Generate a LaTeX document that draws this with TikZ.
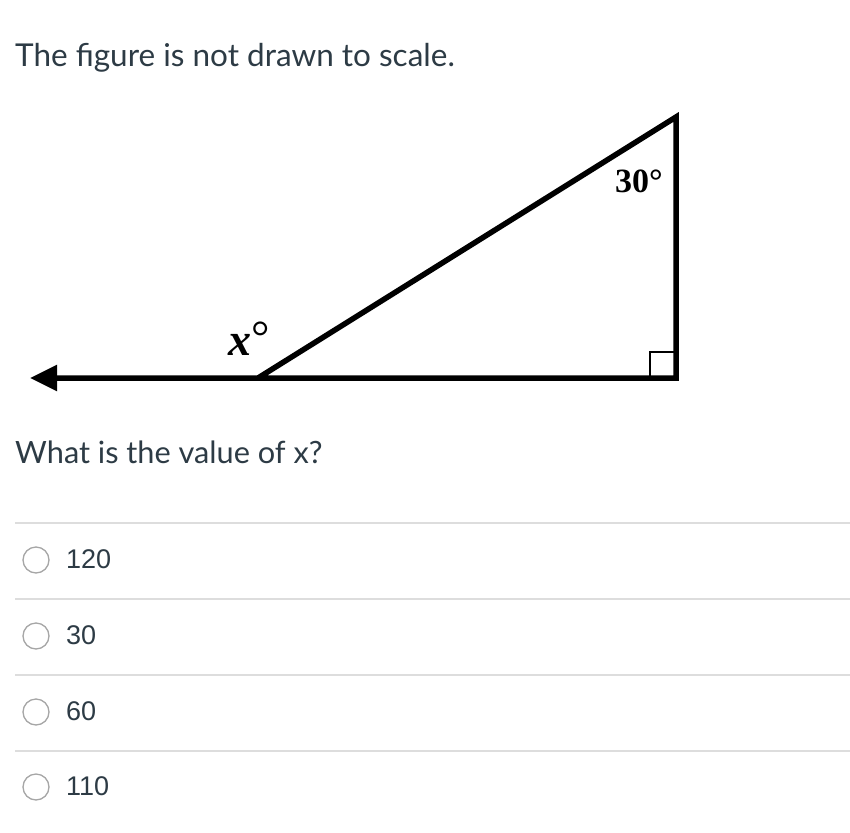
\documentclass[tikz,border=0pt]{standalone}
\usepackage{fontspec}
\setmainfont{Lato}
\newfontfamily\optfont{Liberation Sans}
\newfontfamily\timesfont{Liberation Serif}
\usetikzlibrary{arrows.meta}
\definecolor{ink}{HTML}{2D3B45}
\definecolor{sep}{HTML}{DDDDDD}
\tikzset{
  qtext/.style={anchor=base west, inner sep=0pt, text=ink, font=\fontsize{31.5}{36}\selectfont},
  opttext/.style={anchor=base west, inner sep=0pt, text=ink, font=\optfont\fontsize{27}{32}\selectfont},
  radio/.style={circle, draw=black!35, fill=white, line width=1.3pt, minimum size=26pt, inner sep=0pt},
  sepline/.style={draw=sep, line width=2pt},
  fig/.style={line width=5.5pt, line join=miter, miter limit=10},
  anglelbl/.style={inner sep=0pt, font=\timesfont\bfseries}
}
\begin{document}
\begin{tikzpicture}[x=1pt,y=-1pt]
\useasboundingbox[fill=white] (0,0) rectangle (850,832);
% header
\node[qtext] (title) at (15,67) {The figure is not drawn to scale.};
% triangle
\coordinate (A) at (258,378);
\coordinate (B) at (676,378);
\coordinate (C) at (676,117);
\coordinate (L) at (30,378);
\draw[fig,-{Triangle[length=27pt,width=25pt]}] (A) -- (C) -- (B) -- (L);
\draw[line width=2.5pt] (B) ++(-26,0) coordinate (S1) -- ++(0,-26) coordinate (S2) -- ++(26,0);
\node[anglelbl, anchor=base west, font=\timesfont\bfseries\fontsize{34}{38}\selectfont] (t30) at (615,192) {30°};
\node[anglelbl, anchor=base west, font=\timesfont\bfseries\fontsize{46}{50}\selectfont] (tx) at (228,355) {\textit{x}\raisebox{3pt}{\mdseries°}};
% question
\node[qtext, font=\fontsize{30.7}{36}\selectfont] (q) at (15,463) {What is the value of x?};
% separators
\coordinate (s1a) at (15,523); \coordinate (s1b) at (850,523);
\coordinate (s2a) at (15,599); \coordinate (s2b) at (850,599);
\coordinate (s3a) at (15,675); \coordinate (s3b) at (850,675);
\coordinate (s4a) at (15,751); \coordinate (s4b) at (850,751);
\draw[sepline] (s1a) -- (s1b);
\draw[sepline] (s2a) -- (s2b);
\draw[sepline] (s3a) -- (s3b);
\draw[sepline] (s4a) -- (s4b);
% options
\node[radio] (r1) at (36,560) {};
\node[radio] (r2) at (36,636) {};
\node[radio] (r3) at (36,712) {};
\node[radio] (r4) at (36,787) {};
\node[opttext] (o1) at (66,568) {120};
\node[opttext] (o2) at (66,644) {30};
\node[opttext] (o3) at (66,720) {60};
\node[opttext] (o4) at (66,795) {110};
\end{tikzpicture}
\end{document}
